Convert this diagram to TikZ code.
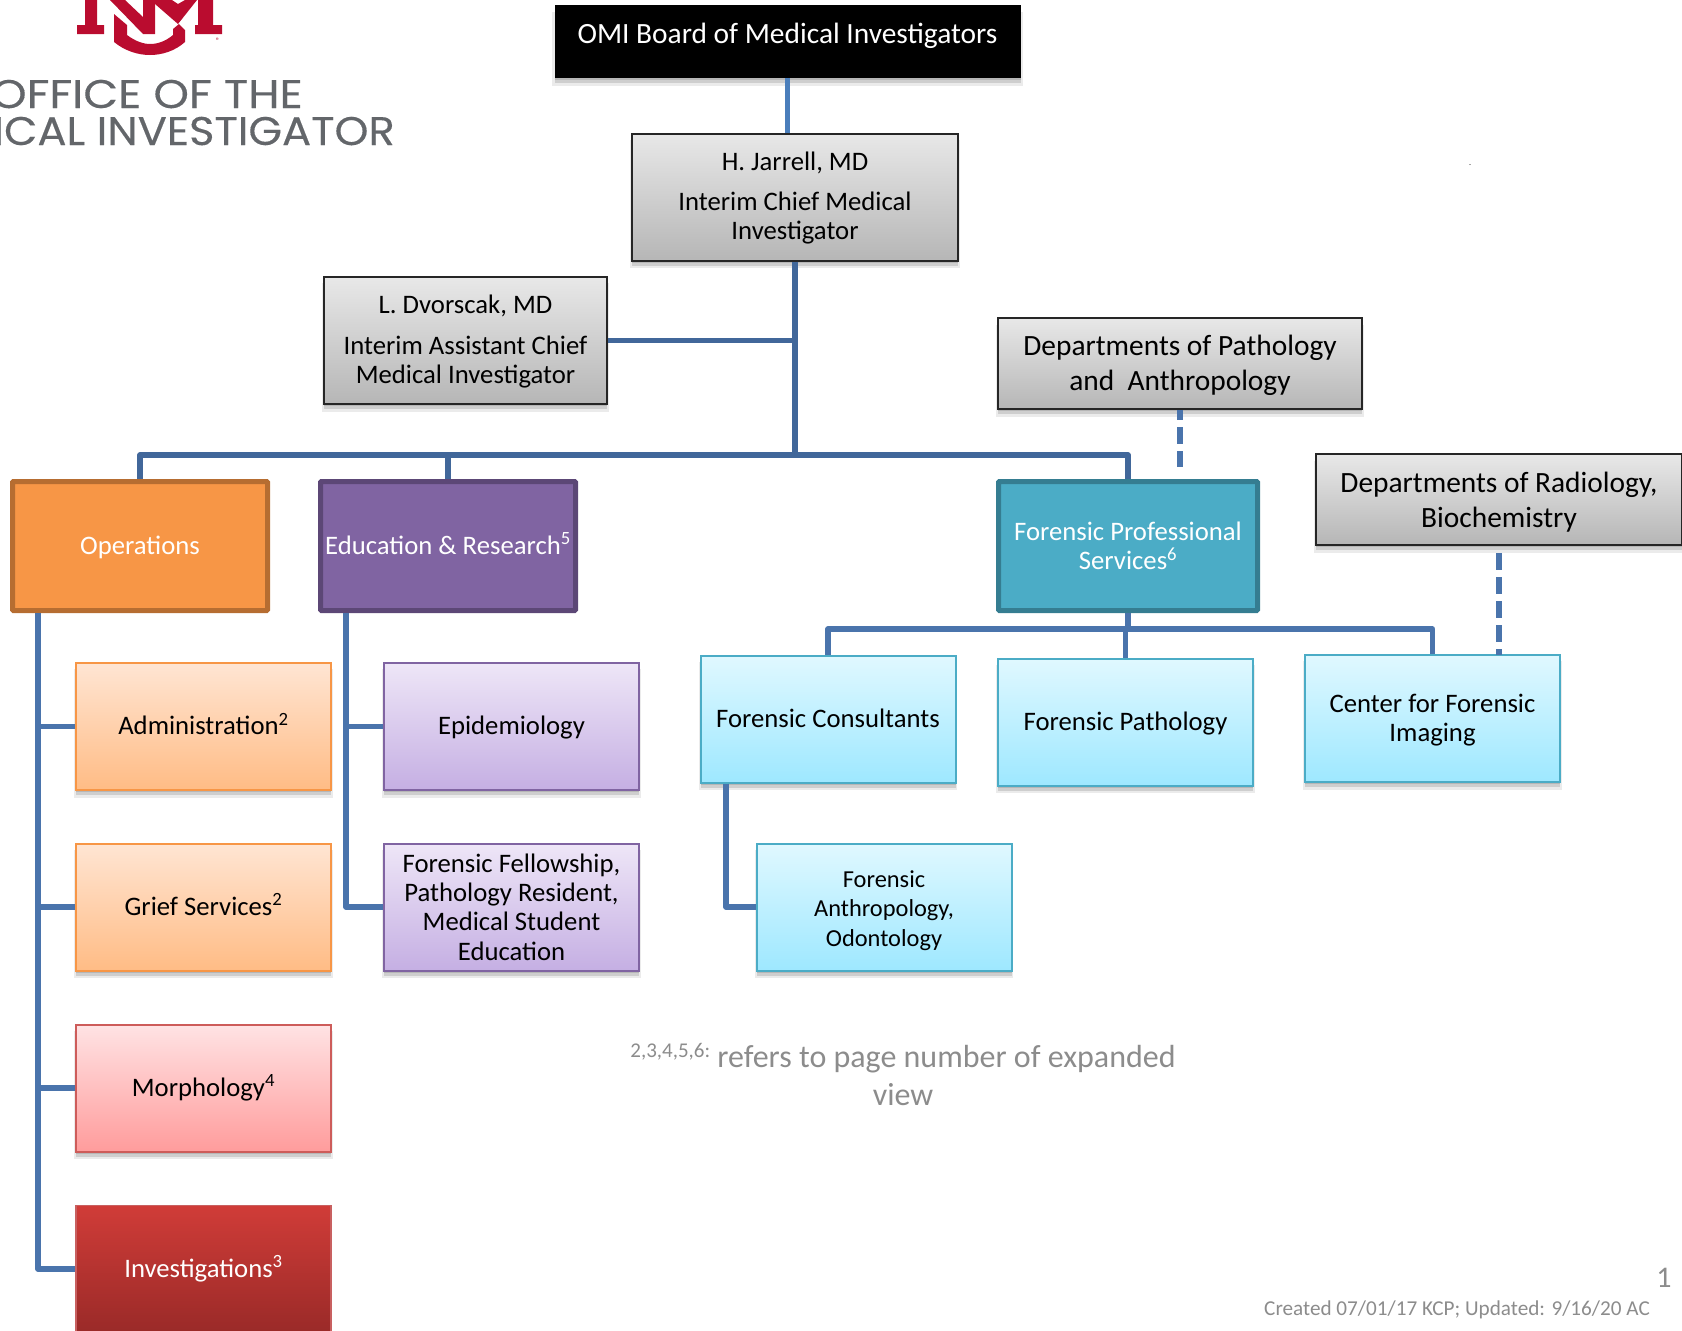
\documentclass[tikz,border=0pt]{standalone}
\usepackage{fontspec}
\setmainfont{Carlito}
\newfontfamily\logofont[FakeStretch=1.08,FakeBold=0.3]{Poppins}
\newfontfamily\logowide[FakeStretch=1.13,FakeBold=0.3]{Poppins}
\usetikzlibrary{shadows}
\usetikzlibrary{positioning}
\definecolor{linkblue}{HTML}{4A74AC}
\definecolor{linkdark}{HTML}{41679A}
\definecolor{linklight}{HTML}{4A7EBB}
\definecolor{unmred}{HTML}{BA0C2F}
\definecolor{logogray}{HTML}{63666A}
\definecolor{notegray}{HTML}{8C8C8C}
\newcommand{\supnote}[1]{\smash{\textsuperscript{#1}}}
\newcommand{\lowered}[1]{\rule{0pt}{\dimexpr.72em+2\dimexpr#1\relax\relax}}
\newcommand{\evenline}{\rule[-.25em]{0pt}{1.1em}}
\tikzstyle{softshadow}=[drop shadow={shadow xshift=0pt,shadow yshift=-2pt,opacity=.12,fill=black},drop shadow={shadow xshift=0pt,shadow yshift=-5pt,opacity=.12,fill=black},drop shadow={shadow scale=1.012,shadow xshift=0pt,shadow yshift=-7pt,opacity=.08,fill=black}]
\tikzstyle{orgbox}=[rectangle,draw,align=center,inner sep=0pt,minimum width=255pt,minimum height=127pt,font=\fontsize{26.7}{29.3}\selectfont]
\tikzstyle{headbox}=[orgbox,line width=5pt,rounded corners=1pt,minimum height=129pt,text=white]
\tikzstyle{greybox}=[orgbox,softshadow,draw=black!85,line width=2pt,top color={rgb,255:red,232;green,232;blue,232},bottom color={rgb,255:red,182;green,182;blue,182}]
\tikzstyle{orangebox}=[orgbox,softshadow,draw={rgb,255:red,247;green,150;blue,70},line width=2pt,top color={rgb,255:red,255;green,229;blue,211},bottom color={rgb,255:red,255;green,188;blue,133}]
\tikzstyle{purplebox}=[orgbox,softshadow,draw={rgb,255:red,128;green,100;blue,162},line width=2pt,top color={rgb,255:red,238;green,230;blue,247},bottom color={rgb,255:red,197;green,175;blue,227}]
\tikzstyle{cyanbox}=[orgbox,softshadow,draw={rgb,255:red,75;green,172;blue,198},line width=2pt,top color={rgb,255:red,224;green,248;blue,255},bottom color={rgb,255:red,158;green,232;blue,255}]
\tikzstyle{link} = [draw,line width=5.5pt,linkblue,line join=round]
\tikzstyle{dashlink} = [link,line width=6pt,dash pattern=on 17pt off 7pt]
\tikzstyle{note} = [text=notegray,inner sep=0pt,align=center]
\begin{document}
\begin{tikzpicture}[x=1pt,y=-1pt]
\useasboundingbox (0,0) rectangle (1682,1331);

    % Logo
    \fill[unmred] (77,25) rectangle (104,34) (85,0) rectangle (97,25);
    \fill[unmred] (110,0) -- (125,0) -- (143,17) -- (143,0) -- (155,0) -- (155,34) -- (143,34) -- cycle;
    \fill[unmred] (155,0) -- (172,0) -- (178,4) -- (185,0) -- (197,0) -- (178,24) -- (155,4) -- cycle;
    \fill[unmred] (198,0) rectangle (213,25) (195,25) rectangle (222,34);
    \fill[unmred] (114,14) -- (127,25) -- (127,35) .. controls (135,41) and (143,44) .. (150,44) .. controls (158,44) and (166,41) .. (173,35) -- (173,29) -- (179,24) -- (185,30) -- (185,42) .. controls (175,51) and (162,55) .. (150,55) .. controls (138,55) and (125,51) .. (114,42) -- cycle;
    \node[text=unmred,inner sep=0pt,font=\fontsize{8}{8}\selectfont] (regmark) at (218,41) {®};
    \node[anchor=base east,inner sep=0pt,text=logogray,font=\logowide\fontsize{40}{40}\selectfont] (logoa) at (303,108) {OFFICE OF THE};
    \node[anchor=base east,inner sep=0pt,text=logogray,font=\logofont\fontsize{40}{40}\selectfont] (logob) at (395,145) {ICAL INVESTIGATOR};

    % First we draw the boxes
    \node[orgbox,softshadow,draw=none,fill=black,text=white,minimum width=466pt,minimum height=73pt,font=\fontsize{29.4}{32}\selectfont] (board) at (787.5,41.5) {OMI Board of Medical Investigators\\[-15pt]~};
    \node[greybox,minimum width=326pt] (jarrell) at (795,197) {\lowered{.7pt}H. Jarrell, MD\\[11pt]Interim Chief Medical\\Investigator};
    \node[greybox,minimum width=283pt] (dvorscak) at (465.5,340.5) {\lowered{.7pt}L. Dvorscak, MD\\[11pt]Interim Assistant Chief\\Medical Investigator};
    \foreach \pos/\name/\label/\wide in {{(1180,363.5)/deptpath/{\lowered{1pt}Departments of Pathology\\and\ \ Anthropology}/364pt}, {(1499,499.5)/deptrad/{\lowered{2pt}Departments of Radiology,\\Biochemistry}/366pt}}
            \node[greybox,minimum width=\wide,minimum height=91pt,font=\fontsize{29.4}{35}\selectfont] (\name) at \pos {\label};

    \node[headbox,fill={rgb,255:red,247;green,150;blue,70},draw={rgb,255:red,182;green,109;blue,49}] (ops) at (140,546) {\evenline Operations};
    \node[headbox,fill={rgb,255:red,128;green,100;blue,162},draw={rgb,255:red,92;green,71;blue,118}] (edu) at (448,546) {\evenline Education \& Research\supnote{5}};
    \node[headbox,fill={rgb,255:red,75;green,172;blue,198},draw={rgb,255:red,53;green,125;blue,145},minimum width=259pt] (fps) at (1128,546) {Forensic Professional\\Services\supnote{6}};

    \foreach \pos/\name/\label in {{(203.5,726.5)/admin/Administration\supnote{2}}, {(203.5,907)/grief/Grief Services\supnote{2}}}
            \node[orangebox] (\name) at \pos {\evenline\label};
    \node[orgbox,softshadow,line width=2pt,draw={rgb,255:red,205;green,92;blue,90},top color={rgb,255:red,255;green,227;blue,228},bottom color={rgb,255:red,255;green,156;blue,156}] (morph) at (203.5,1088) {\evenline Morphology\supnote{4}};
    \node[orgbox,line width=1.5pt,draw={rgb,255:red,200;green,96;blue,96},top color={rgb,255:red,208;green,60;blue,56},bottom color={rgb,255:red,154;green,42;blue,40},text=white] (invest) at (203.5,1269) {\evenline Investigations\supnote{3}};

    \foreach \pos/\name/\label in {{(511.5,726.5)/epi/\evenline Epidemiology}, {(511.5,907)/fellow/{Forensic Fellowship,\\Pathology Resident,\\Medical Student\\Education}}}
            \node[purplebox] (\name) at \pos {\label};

    \foreach \pos/\name/\label in {{(828,719)/consult/\evenline Forensic Consultants}, {(1125.5,722)/fpath/\evenline Forensic Pathology}, {(1432.5,718.5)/imaging/{\lowered{1.5pt}Center for Forensic\\Imaging}}}
            \node[cyanbox] (\name) at \pos {\label};
    \node[cyanbox,font=\fontsize{24.4}{29.3}\selectfont] (anthro) at (884,907) {\lowered{3pt}Forensic\\Anthropology,\\Odontology};

    % Notes
    \node[note,font=\fontsize{32}{38}\selectfont] (pagenote) at (903,1074.5) {\raisebox{10pt}{\fontsize{21}{21}\selectfont 2,3,4,5,6:} refers to page number of expanded\\view};
    \node[note,font=\fontsize{30}{30}\selectfont] (pagenum) at (1664,1278) {1};
    \node[note,anchor=east,font=\fontsize{21.2}{22}\selectfont] (created) at (1650,1310) {Created 07/01/17 KCP; Updated: 9/16/20 AC};
    \node[inner sep=0pt,font=\fontsize{8}{8}\selectfont] (stray) at (1470,165) {.};

    % Connect boxes with lines
    \coordinate (bus) at (795,455);
    \coordinate (fpsbus) at (1128,629);
    \coordinate (opstrunk) at (38,1269);
    \coordinate (edutrunk) at (346,907);
    \coordinate (contrunk) at (726,907);
    \coordinate (pathend) at (1180,467);
    \coordinate (radend) at (1499,655);

    \draw[link,linklight] (board) -- (board |- jarrell.north);
    \draw[link,linkdark] (jarrell) -- (bus);
    \draw[link,linkdark] (dvorscak.east) -- (dvorscak.east -| jarrell);
    \foreach \dest in {ops,edu,fps}
        \draw[link,linkdark] (bus) -| (\dest.north);

    \draw[link] (opstrunk |- ops.south) -- (opstrunk) -- (invest.west);
    \foreach \source in {admin,grief,morph}
        \draw[link] (\source.west) -- (\source.west -| opstrunk);
    \draw[link] (edutrunk |- edu.south) -- (edutrunk) -- (fellow.west);
    \draw[link] (epi.west) -- (epi.west -| edutrunk);

    \draw[link] (fps) -- (fpsbus);
    \foreach \dest in {consult,imaging}
        \draw[link] (fpsbus) -| (\dest.north);
    \draw[link] (fpsbus -| fpath) -- (fpath.north);
    \draw[link] (contrunk |- consult.south) -- (contrunk) -- (anthro.west);

    \draw[dashlink,dash phase=7pt] (deptpath.south) -- (pathend);
    \draw[dashlink,dash phase=17pt] (deptrad.south) -- (radend);
\end{tikzpicture}
\end{document}
